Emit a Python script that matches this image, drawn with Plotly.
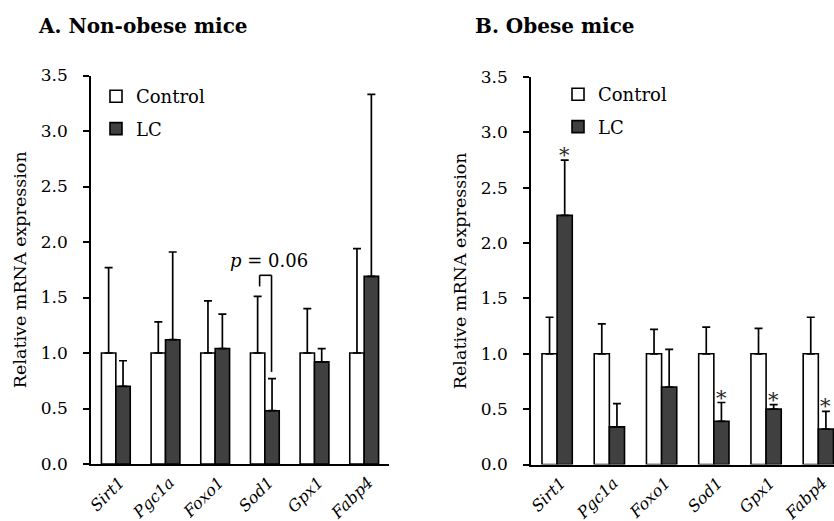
import plotly.graph_objects as go

genes = ["Sirt1", "Pgc1a", "Foxo1", "Sod1", "Gpx1", "Fabp4"]

# Panel A: non-obese mice
a_control = [1.0, 1.0, 1.0, 1.0, 1.0, 1.0]
a_control_err = [0.77, 0.28, 0.47, 0.51, 0.40, 0.94]
a_lc = [0.70, 1.12, 1.04, 0.48, 0.92, 1.69]
a_lc_err = [0.23, 0.79, 0.31, 0.29, 0.12, 1.64]

# Panel B: obese mice
b_control = [1.0, 1.0, 1.0, 1.0, 1.0, 1.0]
b_control_err = [0.33, 0.27, 0.22, 0.24, 0.23, 0.33]
b_lc = [2.25, 0.34, 0.70, 0.39, 0.50, 0.32]
b_lc_err = [0.50, 0.21, 0.34, 0.17, 0.04, 0.16]
b_lc_sig = [True, False, False, True, True, True]

# p-value bracket in panel A (Sod1): top, left-leg bottom, right-leg bottom
p_gene = "Sod1"
p_text = "0.06"
p_bracket = [1.70, 1.60, 0.83]

y_ticks = [0.0, 0.5, 1.0, 1.5, 2.0, 2.5, 3.0, 3.5]

FONT = "DejaVu Serif"
LC_COLOR = "#404040"
BARGAP = 0.42
BW = (1 - BARGAP) / 2

fig = go.Figure()

def add_panel(ctrl, ctrl_err, lc, lc_err, xa, ya, legend):
    fig.add_trace(go.Bar(
        x=genes, y=ctrl, name="Control", xaxis=xa, yaxis=ya, legend=legend,
        legendgroup=legend + "c",
        marker=dict(color="white", line=dict(color="black", width=1.6)),
        error_y=dict(type="data", symmetric=False, array=ctrl_err,
                     arrayminus=[0] * len(ctrl_err), color="black",
                     thickness=1.7, width=4),
    ))
    fig.add_trace(go.Bar(
        x=genes, y=lc, name="LC", xaxis=xa, yaxis=ya, legend=legend,
        legendgroup=legend + "l",
        marker=dict(color=LC_COLOR, line=dict(color="black", width=1.6)),
        error_y=dict(type="data", symmetric=False, array=lc_err,
                     arrayminus=[0] * len(lc_err), color="black",
                     thickness=1.7, width=4),
    ))

add_panel(a_control, a_control_err, a_lc, a_lc_err, "x", "y", "legend")
add_panel(b_control, b_control_err, b_lc, b_lc_err, "x2", "y2", "legend2")

# significance stars (panel B)
for i, g in enumerate(genes):
    if b_lc_sig[i]:
        fig.add_annotation(
            x=i + BW / 2, y=b_lc[i] + b_lc_err[i], xref="x2", yref="y2",
            text="*", showarrow=False, yanchor="middle", yshift=5,
            font=dict(family=FONT, size=21, color="#2a2a2a"),
        )

# p-value bracket (panel A)
pi = genes.index(p_gene)
xl = pi - BW / 2 + 0.04
xr = pi + BW / 2 - 0.01
fig.add_shape(type="line", xref="x", yref="y", x0=xl, x1=xl,
              y0=p_bracket[1], y1=p_bracket[0], line=dict(color="black", width=1.6))
fig.add_shape(type="line", xref="x", yref="y", x0=xl, x1=xr,
              y0=p_bracket[0], y1=p_bracket[0], line=dict(color="black", width=1.6))
fig.add_shape(type="line", xref="x", yref="y", x0=xr, x1=xr,
              y0=p_bracket[2], y1=p_bracket[0], line=dict(color="black", width=1.6))
fig.add_annotation(x=(xl + xr) / 2 + 0.07, y=p_bracket[0], xref="x", yref="y",
                   text="<i>p</i> = " + p_text, showarrow=False,
                   yanchor="bottom", yshift=2,
                   font=dict(family=FONT, size=18, color="black"))

# panel titles
fig.add_annotation(x=36 / 834, y=1 - 26 / 521, xref="paper", yref="paper",
                   text="<b>A. Non-obese mice</b>", showarrow=False,
                   xanchor="left", yanchor="middle",
                   font=dict(family=FONT, size=20, color="black"))
fig.add_annotation(x=473 / 834, y=1 - 26 / 521, xref="paper", yref="paper",
                   text="<b>B. Obese mice</b>", showarrow=False,
                   xanchor="left", yanchor="middle",
                   font=dict(family=FONT, size=20, color="black"))

xcommon = dict(
    showline=True, linecolor="black", linewidth=1.6, ticks="",
    showgrid=False, zeroline=False, tickangle=-45, automargin=False,
    ticklabelstandoff=1, ticklabelshift=4,
    tickfont=dict(family=FONT, size=16, color="black", style="italic"),
    type="category",
)
ycommon = dict(
    range=[0, 3.5], tickvals=y_ticks, tickformat=".1f",
    showline=True, linecolor="black", linewidth=1.6, automargin=False,
    ticks="outside", ticklen=6, tickwidth=1.6, tickcolor="black",
    showgrid=False, zeroline=False, ticklabelstandoff=12,
    tickfont=dict(family=FONT, size=17, color="black"),
    title=dict(text="Relative mRNA expression", standoff=10,
               font=dict(family=FONT, size=17.5, color="black")),
)

fig.update_layout(
    width=834, height=521,
    margin=dict(l=0, r=0, t=0, b=0, autoexpand=False),
    paper_bgcolor="white", plot_bgcolor="white",
    barmode="group", bargap=BARGAP, bargroupgap=0,
    xaxis=dict(domain=[91 / 834, 389 / 834], anchor="y", range=[-0.5, 5.5], **xcommon),
    yaxis=dict(domain=[1 - 464 / 521, 1 - 75.5 / 521], anchor="x", **ycommon),
    xaxis2=dict(domain=[531 / 834, 1.0], anchor="y2", range=[-0.5, 5.30], **xcommon),
    yaxis2=dict(domain=[1 - 464.5 / 521, 1 - 77 / 521], anchor="x2", **ycommon),
    legend=dict(x=96 / 834, y=1 - 78 / 521, xanchor="left", yanchor="top",
                bgcolor="rgba(0,0,0,0)", tracegroupgap=6, itemwidth=30,
                font=dict(family=FONT, size=18, color="black")),
    legend2=dict(x=558 / 834, y=1 - 76 / 521, xanchor="left", yanchor="top",
                 bgcolor="rgba(0,0,0,0)", tracegroupgap=6, itemwidth=30,
                 font=dict(family=FONT, size=18, color="black")),
    showlegend=True,
)

fig.write_html("out.html", config={"displayModeBar": False},
               post_script="document.body.style.margin='0';document.body.style.overflow='hidden';")
